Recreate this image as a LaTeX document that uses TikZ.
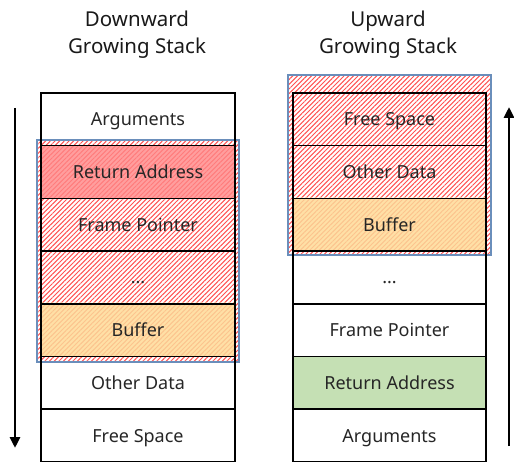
\documentclass[tikz,border=0pt]{standalone}
\usepackage{fontspec}
\setmainfont{Noto Sans}
\usetikzlibrary{arrows.meta,patterns.meta}
\definecolor{retred}{HTML}{FF9E9E}
\definecolor{retline}{HTML}{FF7C7C}
\definecolor{bufor}{HTML}{FFE0A6}
\definecolor{bufline}{HTML}{FCC48E}
\definecolor{retgreen}{HTML}{C5E0B4}
\definecolor{ovblue}{HTML}{6A8EBB}
\definecolor{hatchred}{HTML}{FF5252}
\tikzset{
  cell/.style={draw=black, line width=1.6pt, minimum width=#1, minimum height=52.7pt, inner sep=0pt, text height=13pt, text depth=0pt, font=\fontsize{18}{21}\selectfont, text=black!85},
  hatchbox/.style={pattern={Lines[angle=45,distance=3.3pt,line width=1pt]}, pattern color=hatchred},
  tinted/.style={pattern={Lines[angle=45,distance=3.3pt,line width=1pt]}, pattern color=#1},
  overlayedge/.style={draw=ovblue, line width=1.4pt},
  growarrow/.style={line width=2.8pt, -{Triangle[length=11pt,width=10pt]}},
  title/.style={align=center, font=\fontsize{20.5}{27}\selectfont, text=black!90}
}
\begin{document}
\begin{tikzpicture}[x=1pt,y=-1pt]
\useasboundingbox (0,0) rectangle (514,462);
% titles
\node[title] (tl) at (137,35) {Downward\\Growing Stack};
\node[title] (tr) at (388,35) {Upward\\Growing Stack};
% overlays (red hatch)
\path[hatchbox] (37,140) rectangle (239,362);
\path[hatchbox] (288,75) rectangle (491,255);
% coloured cells with their own tinted hatch
\fill[retred] (41,146) rectangle (235,198);
\path[tinted=retline] (41,146) rectangle (235,198);
\fill[bufor] (41,303) rectangle (235,356);
\path[tinted=bufline] (41,303) rectangle (235,356);
\fill[bufor] (293,198) rectangle (486,251);
\path[tinted=bufline] (293,198) rectangle (486,251);
\fill[retgreen] (293,356) rectangle (486,409);
% overlay borders
\draw[overlayedge] (37,140) rectangle (239,362);
\draw[overlayedge] (288,75) rectangle (491,255);
% left stack
\node[cell=194pt] (l1) at (138,119.35) {Arguments};
\node[cell=194pt] (l2) at (138,172.05) {Return Address};
\node[cell=194pt] (l3) at (138,224.75) {Frame Pointer};
\node[cell=194pt] (l4) at (138,277.45) {...};
\node[cell=194pt] (l5) at (138,330.15) {Buffer};
\node[cell=194pt] (l6) at (138,382.85) {Other Data};
\node[cell=194pt] (l7) at (138,435.55) {Free Space};
% right stack
\node[cell=193pt] (r1) at (389.5,119.35) {Free Space};
\node[cell=193pt] (r2) at (389.5,172.05) {Other Data};
\node[cell=193pt] (r3) at (389.5,224.75) {Buffer};
\node[cell=193pt] (r4) at (389.5,277.45) {...};
\node[cell=193pt] (r5) at (389.5,330.15) {Frame Pointer};
\node[cell=193pt] (r6) at (389.5,382.85) {Return Address};
\node[cell=193pt] (r7) at (389.5,435.55) {Arguments};
% arrows
\coordinate (la) at (15,108);
\coordinate (lb) at (15,448);
\coordinate (ra) at (509,446);
\coordinate (rb) at (509,107);
\draw[growarrow] (la) -- (lb);
\draw[growarrow] (ra) -- (rb);
\end{tikzpicture}
\end{document}
